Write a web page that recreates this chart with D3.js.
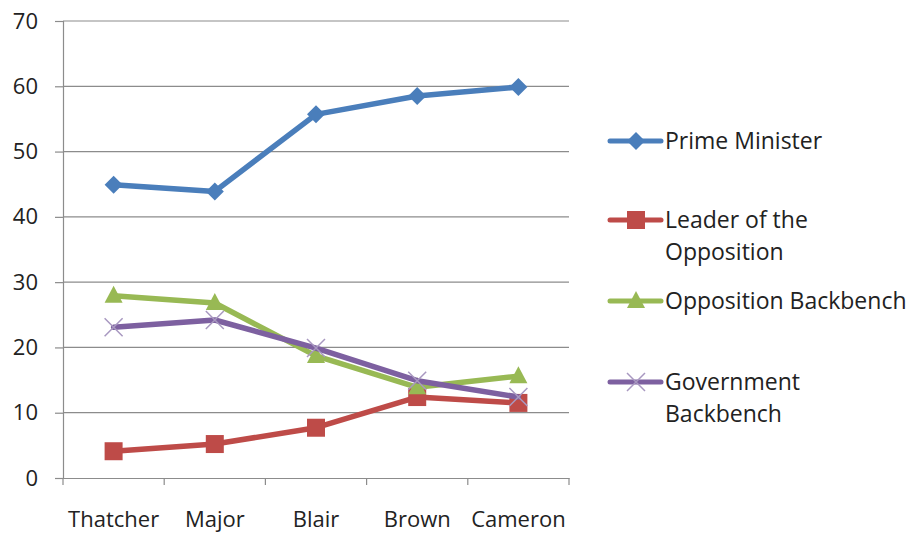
<!DOCTYPE html>
<html><head><meta charset="utf-8">
<script src="https://cdn.jsdelivr.net/npm/d3@7"></script>
<style>body{margin:0;background:#fff}svg{display:block}text{font-family:"Open Sans","Noto Sans",sans-serif;fill:#222}</style>
</head><body>
<script>
const categories = ["Thatcher","Major","Blair","Brown","Cameron"];
const primeMinister = [44.9,43.9,55.7,58.5,59.9];
const leaderOpposition = [4.1,5.2,7.7,12.4,11.5];
const oppositionBackbench = [27.9,26.8,18.7,13.9,15.6];
const governmentBackbench = [23.1,24.2,19.9,14.9,12.4];
const yTicks = [0,10,20,30,40,50,60,70];
const seriesNames = [["Prime Minister"],["Leader of the","Opposition"],["Opposition Backbench"],["Government","Backbench"]];

const series = [
  {name:seriesNames[0], values:primeMinister, color:"#4a7ebb", marker:"diamond", ly:141},
  {name:seriesNames[1], values:leaderOpposition, color:"#be4b48", marker:"square", ly:220},
  {name:seriesNames[2], values:oppositionBackbench, color:"#98b954", marker:"triangle", ly:301},
  {name:seriesNames[3], values:governmentBackbench, color:"#7d60a0", marker:"x", ly:382}
];

const W=911,H=539, L=63, R=569, T=21, B=478;
const svg=d3.select("body").append("svg").attr("width",W).attr("height",H);
const x=d3.scaleBand().domain(categories).range([L,R]);
const y=d3.scaleLinear().domain([0,70]).range([B,T]);

// gridlines
svg.append("g").selectAll("line").data(yTicks.filter(d=>d>0)).join("line")
  .attr("x1",L).attr("x2",R).attr("y1",d=>y(d)).attr("y2",d=>y(d))
  .attr("stroke","#8c8c8c").attr("stroke-width",1.2);

// y axis
const ya=svg.append("g").attr("transform",`translate(${L},0)`).call(d3.axisLeft(y).tickValues(yTicks).tickSize(8).tickPadding(17));
ya.select(".domain").attr("stroke","#8c8c8c").attr("stroke-width",1.2);
ya.selectAll(".tick line").attr("stroke","#8c8c8c").attr("stroke-width",1.2);
ya.selectAll("text").attr("font-size",22).attr("fill","#222").attr("font-family","Open Sans, Noto Sans, sans-serif");

// x axis
const xa=svg.append("g").attr("transform",`translate(0,${B})`).call(d3.axisBottom(x).tickSize(0).tickPadding(33));
xa.select(".domain").attr("stroke","#8c8c8c").attr("stroke-width",1.2);
xa.selectAll("text").attr("font-size",22).attr("fill","#222").attr("font-family","Open Sans, Noto Sans, sans-serif");
const bounds=categories.map(c=>x(c)).concat([R]);
svg.append("g").selectAll("line").data(bounds).join("line")
  .attr("x1",d=>d).attr("x2",d=>d).attr("y1",B).attr("y2",B+7)
  .attr("stroke","#8c8c8c").attr("stroke-width",1.2);

const cx=c=>x(c)+x.bandwidth()/2;

function drawMarker(g, type, color, px, py){
  if(type==="diamond"){
    g.append("path").attr("d",`M${px},${py-9}L${px+9},${py}L${px},${py+9}L${px-9},${py}Z`).attr("fill",color);
  } else if(type==="square"){
    g.append("rect").attr("x",px-9).attr("y",py-9).attr("width",18).attr("height",18).attr("fill",color);
  } else if(type==="triangle"){
    g.append("path").attr("d",`M${px},${py-10}L${px+9},${py+7}L${px-9},${py+7}Z`).attr("fill",color);
  } else {
    g.append("path").attr("d",`M${px-9},${py-9}L${px+9},${py+9}M${px+9},${py-9}L${px-9},${py+9}`)
      .attr("stroke","#a898c0").attr("stroke-width",1.5).attr("fill","none");
  }
}

const line=d3.line().x(d=>cx(d.c)).y(d=>y(d.v));
series.forEach(s=>{
  const g=svg.append("g");
  const pts=categories.map((c,i)=>({c,v:s.values[i]}));
  g.append("path").datum(pts).attr("d",line).attr("fill","none").attr("stroke",s.color)
    .attr("stroke-width",5.5).attr("stroke-linejoin","round").attr("stroke-linecap","round");
  pts.forEach(p=>drawMarker(g,s.marker,s.color,cx(p.c),y(p.v)));
  // legend
  const lg=svg.append("g");
  lg.append("line").attr("x1",610).attr("x2",661).attr("y1",s.ly).attr("y2",s.ly)
    .attr("stroke",s.color).attr("stroke-width",5).attr("stroke-linecap","round");
  drawMarker(lg,s.marker,s.color,636,s.ly);
  s.name.forEach((t,i)=>lg.append("text").attr("x",665).attr("y",s.ly+8+i*32).attr("font-size",23).text(t));
});
</script>
</body></html>
